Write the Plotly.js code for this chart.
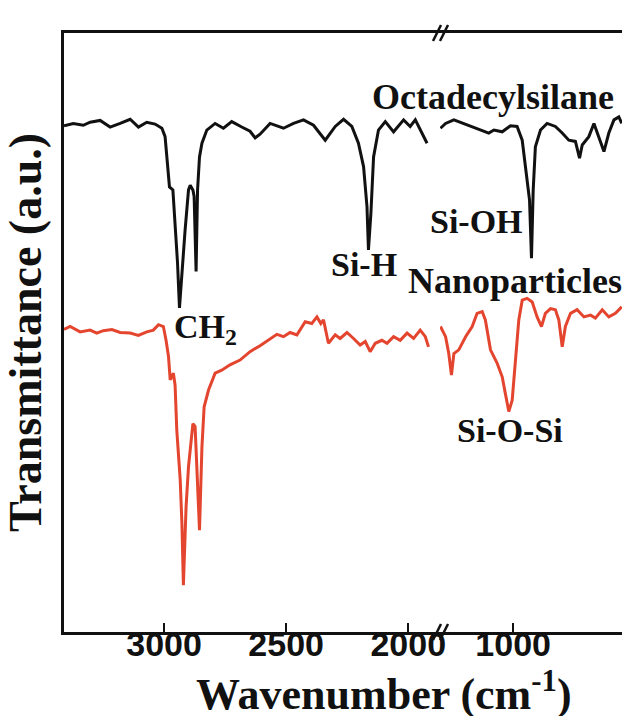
<!DOCTYPE html>
<html>
<head>
<meta charset="utf-8">
<script src="https://cdn.plot.ly/plotly-3.0.1.min.js"></script>
<style>html,body{margin:0;padding:0;background:#fff;}#chart{width:622px;height:716px;}</style>
</head>
<body>
<div id="chart"></div>
<script>
// Octadecylsilane, high-wavenumber segment (cm-1) and transmittance (a.u.)
const wnBlackLeft = [3410, 3372, 3331, 3303, 3262, 3221, 3180, 3139, 3105, 3071, 3037, 3009, 2996, 2989, 2978, 2964, 2955, 2945, 2937, 2927, 2914, 2900, 2893, 2882, 2877, 2869, 2863, 2855, 2845, 2825, 2791, 2757, 2723, 2682, 2648, 2627, 2607, 2566, 2511, 2470, 2429, 2388, 2340, 2299, 2265, 2231, 2204, 2183, 2169, 2163, 2153, 2142, 2122, 2094, 2060, 2019, 1992, 1971, 1951, 1923];
const tBlackLeft = [84.5, 84.9, 84.6, 85.1, 85.4, 84.3, 84.9, 85.6, 84.3, 85.1, 84.8, 84.1, 82.7, 79.9, 74.3, 73.8, 68.3, 61.6, 54.1, 60.4, 67.1, 73.8, 74.6, 73.8, 72.7, 60.2, 73.8, 79.3, 81.6, 83.8, 84.9, 84.1, 85.2, 84.3, 83.6, 82.5, 83.1, 84.9, 84.1, 84.9, 85.5, 84.6, 82.1, 84.4, 85.6, 84.4, 81.6, 77.7, 71.0, 63.8, 69.9, 79.3, 83.8, 85.2, 83.5, 85.5, 84.4, 85.5, 83.8, 81.6];

// Octadecylsilane, low-wavenumber segment
const wnBlackRight = [1298, 1277, 1243, 1202, 1168, 1134, 1100, 1079, 1045, 1011, 984, 963, 950, 939, 933, 925, 918, 909, 888, 861, 827, 799, 772, 745, 728, 717, 690, 669, 649, 628, 608, 587, 567, 555];
const tBlackRight = [84.1, 84.9, 85.5, 84.9, 84.4, 83.8, 83.3, 83.8, 83.5, 84.5, 84.4, 82.1, 77.7, 73.8, 72.1, 62.4, 73.8, 81.0, 83.8, 84.9, 84.4, 83.3, 82.1, 81.9, 79.1, 81.3, 82.7, 84.9, 82.7, 80.2, 83.3, 85.5, 86.0, 84.9];

// Nanoparticles, high-wavenumber segment
const wnRedLeft = [3410, 3385, 3344, 3303, 3276, 3249, 3214, 3180, 3139, 3105, 3071, 3044, 3023, 3003, 2992, 2982, 2975, 2962, 2955, 2948, 2934, 2927, 2921, 2910, 2900, 2882, 2873, 2863, 2855, 2845, 2836, 2818, 2791, 2764, 2730, 2689, 2648, 2607, 2566, 2538, 2511, 2484, 2456, 2422, 2395, 2374, 2358, 2347, 2327, 2299, 2279, 2251, 2224, 2197, 2176, 2156, 2135, 2108, 2087, 2060, 2033, 2005, 1978, 1951, 1930, 1917];
const tRedLeft = [50.5, 51.0, 50.1, 50.4, 49.9, 50.3, 50.5, 50.0, 49.9, 49.5, 50.1, 50.4, 51.3, 51.0, 48.7, 46.0, 42.1, 43.2, 41.2, 33.7, 25.4, 18.1, 7.8, 20.9, 27.6, 34.8, 34.3, 25.9, 17.0, 30.9, 37.6, 40.4, 43.2, 43.7, 44.6, 45.4, 46.8, 47.8, 49.0, 49.7, 49.3, 50.0, 49.6, 51.8, 51.5, 52.6, 51.5, 52.1, 48.2, 49.6, 49.0, 50.0, 49.0, 47.9, 48.5, 46.8, 48.2, 48.7, 48.2, 49.3, 48.7, 49.9, 49.0, 50.4, 49.3, 47.6];

// Nanoparticles, low-wavenumber segment
const wnRedRight = [1298, 1277, 1264, 1253, 1243, 1223, 1195, 1168, 1148, 1127, 1114, 1093, 1066, 1045, 1032, 1018, 1004, 991, 977, 963, 943, 922, 902, 884, 868, 847, 827, 813, 799, 786, 765, 738, 710, 683, 663, 635, 608, 581, 555];
const tRedRight = [51.0, 49.3, 46.5, 42.9, 46.5, 47.1, 49.3, 51.0, 53.2, 53.5, 52.1, 47.1, 44.9, 42.6, 39.8, 36.8, 38.7, 45.4, 52.1, 55.4, 55.7, 55.1, 52.6, 51.0, 53.2, 54.0, 53.8, 52.1, 47.6, 51.0, 53.2, 53.8, 52.6, 52.9, 52.4, 53.8, 52.6, 53.2, 54.3];

const leftTicks = [3000, 2500, 2000];
const rightTicks = [1000];
const leftRange = [3410, 1870];
const rightRange = [1300, 554];

const BLACK = '#111111';
const RED = '#e4452f';

const traces = [
  {x: wnBlackLeft, y: tBlackLeft, xaxis: 'x', yaxis: 'y', mode: 'lines', name: 'Octadecylsilane', line: {color: BLACK, width: 3}},
  {x: wnBlackRight, y: tBlackRight, xaxis: 'x2', yaxis: 'y', mode: 'lines', name: 'Octadecylsilane', line: {color: BLACK, width: 3}},
  {x: wnRedLeft, y: tRedLeft, xaxis: 'x', yaxis: 'y', mode: 'lines', name: 'Nanoparticles', line: {color: RED, width: 3}},
  {x: wnRedRight, y: tRedRight, xaxis: 'x2', yaxis: 'y', mode: 'lines', name: 'Nanoparticles', line: {color: RED, width: 3}}
];

const tickFont = {family: 'Liberation Sans, Arial, sans-serif', size: 34, color: '#111', weight: 'bold'};
const lblFont = {family: 'Liberation Serif, Times New Roman, serif', size: 34, color: '#111', weight: 'bold'};
const bigLblFont = Object.assign({}, lblFont, {size: 36});
const BREAK = 0.6738;

const commonX = {
  showgrid: false, zeroline: false, showline: true, linecolor: BLACK, linewidth: 3,
  mirror: true, ticks: 'inside', ticklen: 9, tickwidth: 2, tickcolor: BLACK,
  tickfont: tickFont, ticklabelstandoff: -20, anchor: 'y'
};

const layout = {
  width: 622, height: 716,
  margin: {l: 64, r: 0, t: 33, b: 84},
  paper_bgcolor: '#fff', plot_bgcolor: '#fff',
  showlegend: false,
  font: {family: 'Liberation Serif, serif', color: '#111'},
  xaxis: Object.assign({}, commonX, {domain: [0, BREAK], range: leftRange, tickvals: leftTicks}),
  xaxis2: Object.assign({}, commonX, {domain: [BREAK, 1], range: rightRange, tickvals: rightTicks}),
  yaxis: {
    range: [0, 100], showgrid: false, zeroline: false, showline: true, linecolor: BLACK, linewidth: 3,
    ticks: '', showticklabels: false,
    title: {text: 'Transmittance (a.u.)', font: {family: 'Liberation Serif, serif', size: 46, color: '#111', weight: 'bold'}, standoff: 10}
  },
  annotations: [
    {text: 'Wavenumber (cm<sup>-1</sup>)', xref: 'paper', yref: 'paper', x: 0.5726, y: -0.1, xanchor: 'center', yanchor: 'middle', showarrow: false,
     font: {family: 'Liberation Serif, serif', size: 44, color: '#111', weight: 'bold'}},
    {text: 'Octadecylsilane', xref: 'paper', yref: 'paper', x: 0.7697, y: 0.893, xanchor: 'center', yanchor: 'middle', showarrow: false, font: bigLblFont},
    {text: 'Si-OH', xref: 'paper', yref: 'paper', x: 0.7384, y: 0.686, xanchor: 'center', yanchor: 'middle', showarrow: false, font: lblFont},
    {text: 'Si-H', xref: 'paper', yref: 'paper', x: 0.5376, y: 0.6127, xanchor: 'center', yanchor: 'middle', showarrow: false, font: lblFont},
    {text: 'Nanoparticles', xref: 'paper', yref: 'paper', x: 0.8074, y: 0.586, xanchor: 'center', yanchor: 'middle', showarrow: false, font: bigLblFont},
    {text: 'CH<sub>2</sub>', xref: 'paper', yref: 'paper', x: 0.2527, y: 0.506, xanchor: 'center', yanchor: 'middle', showarrow: false, font: lblFont},
    {text: 'Si-O-Si', xref: 'paper', yref: 'paper', x: 0.799, y: 0.337, xanchor: 'center', yanchor: 'middle', showarrow: false, font: lblFont}
  ],
  shapes: [
    // axis-break marks (bottom)
    {type: 'line', xref: 'paper', yref: 'paper', x0: 0.6613, y0: -0.0134, x1: 0.6756, y1: 0.0134, line: {color: BLACK, width: 2.5}},
    {type: 'line', xref: 'paper', yref: 'paper', x0: 0.6738, y0: -0.0134, x1: 0.6882, y1: 0.0134, line: {color: BLACK, width: 2.5}},
    // axis-break marks (top)
    {type: 'line', xref: 'paper', yref: 'paper', x0: 0.6613, y0: 0.9866, x1: 0.6756, y1: 1.0134, line: {color: BLACK, width: 2.5}},
    {type: 'line', xref: 'paper', yref: 'paper', x0: 0.6738, y0: 0.9866, x1: 0.6882, y1: 1.0134, line: {color: BLACK, width: 2.5}}
  ]
};

Plotly.newPlot('chart', traces, layout, {staticPlot: true, displayModeBar: false});
</script>
</body>
</html>
